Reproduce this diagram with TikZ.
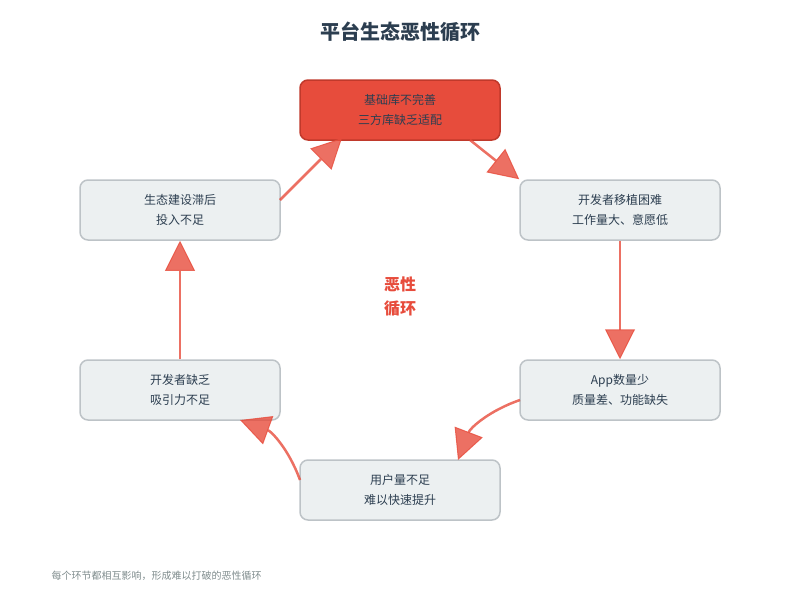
\documentclass[tikz,border=0pt]{standalone}
\usepackage{fontspec}
\setmainfont{Noto Sans CJK SC}
\usetikzlibrary{arrows.meta}
\definecolor{red1}{HTML}{E74C3C}
\definecolor{red2}{HTML}{C0392B}
\definecolor{gbox}{HTML}{ECF0F1}
\definecolor{gline}{HTML}{BDC3C7}
\definecolor{dark}{HTML}{2C3E50}
\definecolor{foot}{HTML}{7F8C8D}
\begin{document}
\begin{tikzpicture}[x=1pt,y=-1pt,
  box/.style={draw=gline,line width=1.5pt,fill=gbox,rounded corners=8pt,minimum width=200pt,minimum height=60pt,align=center,font=\fontsize{12}{20}\selectfont,text=dark},
  hot/.style={box,fill=red1,draw=red2},
  arr/.style={draw=red1,opacity=0.8,line width=2.5pt,-{Triangle[length=30pt,width=30pt,line width=1pt,fill=red1]}}]
\useasboundingbox (0,0) rectangle (800,600);
\node[font=\fontsize{20}{24}\selectfont\bfseries,text=dark] (title) at (400,32) {平台生态恶性循环};
\node[hot] (a) at (400,110) {基础库不完善\\三方库缺乏适配};
\node[box] (b) at (620,210) {开发者移植困难\\工作量大、意愿低};
\node[box] (c) at (620,390) {App数量少\\质量差、功能缺失};
\node[box] (d) at (400,490) {用户量不足\\难以快速提升};
\node[box] (e) at (180,390) {开发者缺乏\\吸引力不足};
\node[box] (f) at (180,210) {生态建设滞后\\投入不足};
\node[font=\fontsize{16}{24}\selectfont\bfseries,text=red1,align=center] (m) at (400,297) {恶性\\循环};
\node[font=\fontsize{10}{12}\selectfont,text=foot,anchor=west] (n) at (48,576) {每个环节都相互影响，形成难以打破的恶性循环};
\draw[arr] (470,140) -- (b.north west);
\draw[arr] (b.south) -- (c.north);
\draw[arr] (520,400) to[bend right=25] (458,460);
\draw[arr] (300,480) to[bend right=25] (240,420);
\draw[arr] (e.north) -- (f.south);
\draw[arr] (280,200) -- (342,138);
\end{tikzpicture}
\end{document}
